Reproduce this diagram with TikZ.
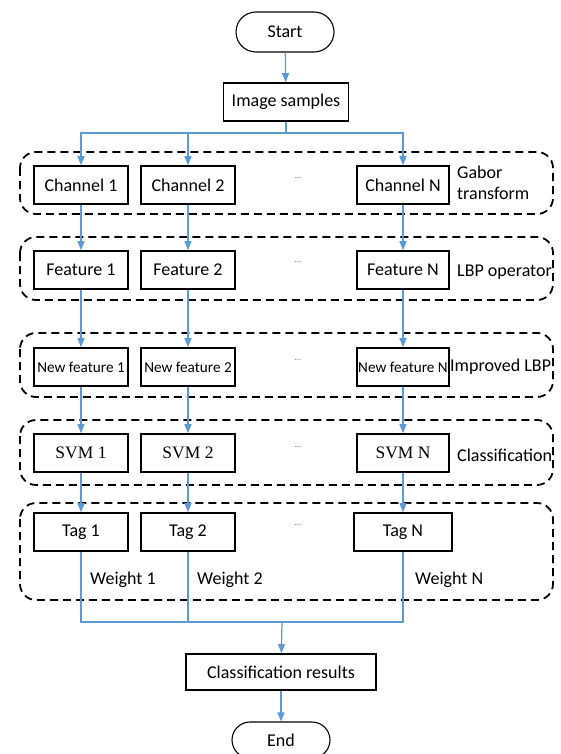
\documentclass[tikz,border=0pt]{standalone}
\usepackage{fontspec}
\setmainfont{Carlito}
\newfontfamily\svmfont{Liberation Serif}
\usetikzlibrary{arrows.meta,shapes.misc}
\definecolor{flowblue}{RGB}{91,155,213}
\tikzset{
  box/.style={draw=black,line width=1.6pt,minimum height=38pt,inner sep=0pt,font=\fontsize{18}{20}\selectfont},
  term/.style={draw=black,line width=1.1pt,rounded rectangle,minimum width=98pt,minimum height=40pt,inner sep=0pt,font=\fontsize{18}{20}\selectfont},
  group/.style={draw=black,dashed,dash pattern=on 8pt off 5pt,line width=1.8pt,rounded corners=16pt},
  flow/.style={draw=flowblue,line width=1.2pt,-{Triangle[length=9pt,width=7pt]}},
  wire/.style={draw=flowblue,line width=1.2pt},
  side/.style={anchor=west,font=\fontsize{18}{21}\selectfont,align=left,inner sep=0pt},
  dots/.style={font=\fontsize{9}{10}\selectfont,text=gray},
  wlabel/.style={anchor=west,font=\fontsize{18}{20}\selectfont,inner sep=0pt},
  nbox/.style={box,font=\fontsize{15.2}{17}\selectfont},
  sbox/.style={box,font=\svmfont\fontsize{17.5}{19}\selectfont}
}
\begin{document}
\begin{tikzpicture}[x=1pt,y=-1pt]
\useasboundingbox[fill=white] (0,0) rectangle (561,754);
% group frames
\draw[group] (20,152) rectangle (553,214);
\draw[group] (20,237) rectangle (553,300);
\draw[group] (20,333) rectangle (553,397);
\draw[group] (20,420) rectangle (553,485);
\draw[group] (20,503) rectangle (553,600);
% terminals
\node[term] (start) at (285,32) {Start};
\node[box,minimum width=125pt] (img) at (286,102) {Image samples};
% row 1
\node[box,minimum width=94pt] (c1) at (81,185) {Channel 1};
\node[box,minimum width=94pt] (c2) at (188,185) {Channel 2};
\node[box,minimum width=92pt] (cN) at (403,185) {Channel N};
\node[dots] (d1) at (298,178) {...};
\node[side] (gab) at (457,183) {Gabor\\transform};
% row 2
\node[box,minimum width=94pt] (f1) at (81,270) {Feature 1};
\node[box,minimum width=94pt] (f2) at (188,270) {Feature 2};
\node[box,minimum width=92pt] (fN) at (403,270) {Feature N};
\node[dots] (d2) at (298,262) {...};
\node[side] (lbp) at (457,272) {LBP operator};
% row 3
\node[nbox,minimum width=94pt] (n1) at (81,367) {New feature 1};
\node[nbox,minimum width=94pt] (n2) at (188,367) {New feature 2};
\node[nbox,minimum width=92pt] (nN) at (403,367) {New feature N};
\node[dots] (d3) at (298,360) {...};
\node[side] (imp) at (450,367) {Improved LBP};
% row 4
\node[sbox,minimum width=94pt] (s1) at (81,453) {SVM 1};
\node[sbox,minimum width=94pt] (s2) at (188,453) {SVM 2};
\node[sbox,minimum width=92pt] (sN) at (403,453) {SVM N};
\node[dots] (d4) at (298,447) {...};
\node[side] (cls) at (457,455) {Classification};
% row 5
\node[box,minimum width=94pt] (t1) at (81,532) {Tag 1};
\node[box,minimum width=94pt] (t2) at (188,532) {Tag 2};
\node[box,minimum width=98pt] (tN) at (403,532) {Tag N};
\node[dots] (d5) at (298,525) {...};
\node[wlabel] (w1) at (90,580) {Weight 1};
\node[wlabel] (w2) at (197,580) {Weight 2};
\node[wlabel] (wN) at (415,580) {Weight N};
% bottom
\node[box,minimum width=190pt,minimum height=36pt] (res) at (281,672) {Classification results};
\node[term,minimum height=36pt] (end) at (281,740) {End};
% junctions
\coordinate (split) at (286,133);
\coordinate (merge) at (282,622);
% connectors
\draw[flow] (start) -- (img);
\draw[wire] (img) -- (split);
\draw[flow] (split) -| (c1);
\draw[flow] (split) -| (c2);
\draw[flow] (split) -| (cN);
\draw[flow] (c1) -- (f1);
\draw[flow] (c2) -- (f2);
\draw[flow] (cN) -- (fN);
\draw[flow] (f1) -- (n1);
\draw[flow] (f2) -- (n2);
\draw[flow] (fN) -- (nN);
\draw[flow] (n1) -- (s1);
\draw[flow] (n2) -- (s2);
\draw[flow] (nN) -- (sN);
\draw[flow] (s1) -- (t1);
\draw[flow] (s2) -- (t2);
\draw[flow] (sN) -- (tN);
\draw[wire] (t1) |- (merge);
\draw[wire] (t2) |- (merge);
\draw[wire] (tN) |- (merge);
\draw[flow] (merge) -- (res);
\draw[flow] (res) -- (end);
\end{tikzpicture}
\end{document}
